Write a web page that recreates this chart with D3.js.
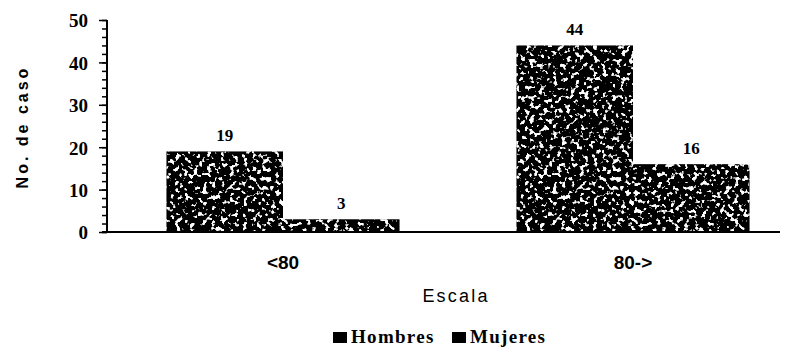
<!DOCTYPE html>
<html>
<head>
<meta charset="utf-8">
<script src="https://cdn.jsdelivr.net/npm/d3@7"></script>
<style>
  body { margin: 0; background: #fff; }
  svg { display: block; }
</style>
</head>
<body>
<script>
const width = 796, height = 356;

// data
const categories = ["<80", "80->"];
const series = ["Hombres", "Mujeres"];
const hombres = [19, 44];
const mujeres = [3, 16];
const yTicks = [0, 10, 20, 30, 40, 50];

const rows = categories.map((c, i) => ({ cat: c, Hombres: hombres[i], Mujeres: mujeres[i] }));

const svg = d3.select("body").append("svg")
    .attr("width", width)
    .attr("height", height);

// speckled "scan" look of the bars
const defs = svg.append("defs");
const f = defs.append("filter").attr("id", "speckle")
    .attr("x", 0).attr("y", 0).attr("width", 1).attr("height", 1);
f.append("feTurbulence").attr("type", "fractalNoise")
    .attr("baseFrequency", 0.22).attr("numOctaves", 2).attr("seed", 7).attr("result", "n");
f.append("feColorMatrix").attr("in", "n").attr("type", "matrix")
    .attr("values", "0 0 0 0 1  0 0 0 0 1  0 0 0 0 1  12 0 0 0 -6.9").attr("result", "spots");
f.append("feComposite").attr("in", "spots").attr("in2", "SourceGraphic").attr("operator", "in").attr("result", "sp");
f.append("feMerge").selectAll("feMergeNode").data(["SourceGraphic", "sp"]).enter()
    .append("feMergeNode").attr("in", d => d);

const x0 = d3.scaleBand()
    .domain(categories)
    .range([108, 808])
    .paddingInner(0.334)
    .paddingOuter(0.167);

const x1 = d3.scaleBand()
    .domain(series)
    .range([0, x0.bandwidth()]);

const y = d3.scaleLinear()
    .domain([0, 50])
    .range([232, 20]);

const color = d3.scaleOrdinal().domain(series).range(["#000", "#000"]);

// bars
const groups = svg.append("g")
    .selectAll("g")
    .data(rows)
    .enter().append("g")
    .attr("transform", d => `translate(${x0(d.cat)},0)`);

groups.selectAll("rect")
    .data(d => series.map(s => ({ key: s, value: d[s] })))
    .enter().append("rect")
    .attr("x", d => x1(d.key))
    .attr("y", d => y(d.value))
    .attr("width", x1.bandwidth())
    .attr("height", d => y(0) - y(d.value))
    .attr("fill", d => color(d.key))
    .attr("filter", "url(#speckle)");

groups.selectAll("text")
    .data(d => series.map(s => ({ key: s, value: d[s] })))
    .enter().append("text")
    .attr("x", d => x1(d.key) + x1.bandwidth() / 2)
    .attr("y", d => y(d.value) - 10)
    .attr("text-anchor", "middle")
    .style("font-family", "'Liberation Serif', 'Times New Roman', serif")
    .style("font-weight", "bold")
    .style("font-size", "17px")
    .text(d => d.value);

// y axis
const yAxis = svg.append("g")
    .attr("transform", "translate(107,0)")
    .call(d3.axisLeft(y).tickValues(d3.range(0, 51, 2)).tickSize(5).tickFormat(""));
yAxis.select(".domain").attr("stroke", "#000").attr("stroke-width", 2).attr("d", `M0,${y(50)}V${y(0)}`);
yAxis.selectAll(".tick line").attr("stroke-width", 1.5);

const yLabels = svg.append("g")
    .attr("transform", "translate(107,0)")
    .call(d3.axisLeft(y).tickValues(yTicks).tickSize(8).tickPadding(11));
yLabels.select(".domain").remove();
yLabels.selectAll(".tick line").attr("stroke-width", 1.5);
yLabels.selectAll(".tick text")
    .attr("dy", "0.36em")
    .style("font-family", "'Liberation Serif', 'Times New Roman', serif")
    .style("font-weight", "bold")
    .style("font-size", "19px")
    .attr("fill", "#000");

// x axis line
svg.append("line")
    .attr("x1", 102).attr("x2", 780)
    .attr("y1", y(0)).attr("y2", y(0))
    .attr("stroke", "#000").attr("stroke-width", 2);

const xAxis = svg.append("g")
    .attr("transform", `translate(0,${y(0)})`)
    .call(d3.axisBottom(x0).tickSize(0).tickPadding(24));
xAxis.select(".domain").remove();
xAxis.selectAll(".tick text")
    .style("font-family", "'Liberation Sans', Arial, sans-serif")
    .style("font-weight", "bold")
    .style("font-size", "19px")
    .attr("fill", "#000");

// axis titles
svg.append("text")
    .attr("x", 456).attr("y", 302)
    .attr("text-anchor", "middle")
    .style("font-family", "'Liberation Sans', Arial, sans-serif")
    .style("font-size", "18px")
    .style("letter-spacing", "2.2px")
    .text("Escala");

svg.append("text")
    .attr("transform", "translate(28,127) rotate(-90)")
    .attr("text-anchor", "middle")
    .style("font-family", "'Liberation Sans', Arial, sans-serif")
    .style("font-weight", "bold")
    .style("font-size", "16px")
    .style("letter-spacing", "3px")
    .text("No. de caso");

// legend
const legend = svg.append("g").attr("transform", "translate(333,343)");
const legendX = [0, 119];
series.forEach((s, i) => {
    const g = legend.append("g").attr("transform", `translate(${legendX[i]},0)`);
    g.append("rect")
        .attr("x", 0).attr("y", -11)
        .attr("width", 14).attr("height", 11)
        .attr("fill", color(s));
    g.append("text")
        .attr("x", 18).attr("y", 0)
        .style("font-family", "'Liberation Serif', 'Times New Roman', serif")
        .style("font-weight", "bold")
        .style("font-size", "19px")
        .style("letter-spacing", "1.3px")
        .text(s);
});
</script>
</body>
</html>
